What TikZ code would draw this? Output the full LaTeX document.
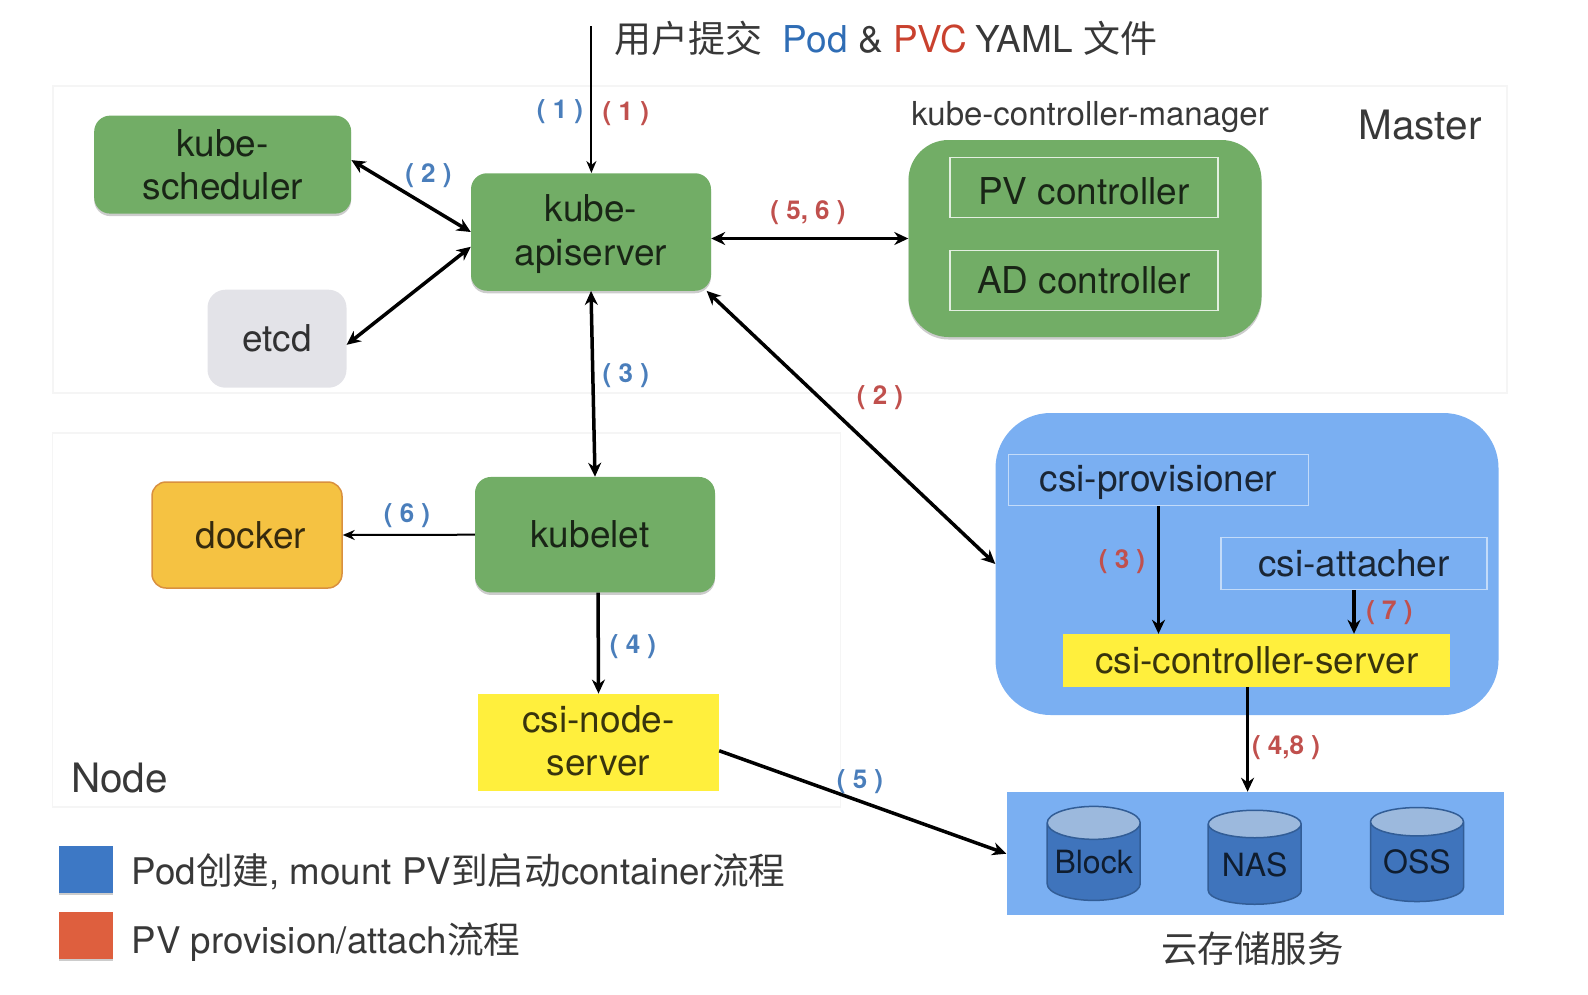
\documentclass[tikz,border=0pt]{standalone}
\usepackage{fontspec}
\setmainfont{TeX Gyre Heros}
\newfontfamily\cjk{Noto Sans CJK SC}
\usetikzlibrary{positioning,shapes.geometric,shadows,arrows.meta}
\definecolor{boxgreen}{HTML}{72AD66}
\definecolor{boxgrey}{HTML}{E3E3E8}
\definecolor{boxorange}{HTML}{F5C242}
\definecolor{lineorange}{HTML}{D9903F}
\definecolor{boxyellow}{HTML}{FFEF3D}
\definecolor{boxblue}{HTML}{7AAFF2}
\definecolor{cylblue}{HTML}{3F74BC}
\definecolor{cyltop}{HTML}{9CB9DD}
\definecolor{stepblue}{HTML}{4A7EBB}
\definecolor{stepred}{HTML}{C0504D}
\definecolor{titleblue}{HTML}{2F6DB5}
\definecolor{titlered}{HTML}{C9412E}
\definecolor{keyblue}{HTML}{3D78C5}
\definecolor{keyred}{HTML}{DE5F3E}
\newcommand{\bigtext}{\fontsize{37}{44.5}\selectfont}
\tikzset{main node/.style={rounded corners=16pt,align=center,font=\bigtext,text=black,text opacity=.78,inner sep=0pt},
    green node/.style={main node,fill=boxgreen,drop shadow={shadow xshift=0pt,shadow yshift=-2.5pt,fill=black,opacity=.2}},
    plain node/.style={main node,rounded corners=0pt},
    inner box/.style={plain node,draw=white!55!boxblue,line width=1.5pt},
    white box/.style={plain node,draw=white!80!boxgreen,line width=1.5pt,minimum width=268pt,minimum height=60pt},
    yellow node/.style={plain node,fill=boxyellow},
    frame/.style={draw=black!4,line width=1.5pt,inner sep=0pt},
    db/.style={cylinder,shape border rotate=90,aspect=.42,draw=black!20!cylblue,line width=1.5pt,cylinder uses custom fill,cylinder body fill=cylblue,cylinder end fill=cyltop,minimum width=93pt,minimum height=94pt,inner sep=0pt,font=\fontsize{32}{38}\selectfont,text=black,text opacity=.75},
    both/.style={{Stealth[length=14pt,width=13pt]}-{Stealth[length=14pt,width=13pt]},line width=3.5pt},
    one/.style={-{Stealth[length=14pt,width=13pt]},line width=3.5pt},
    thin one/.style={-{Stealth[length=12pt,width=10pt]},line width=2pt},
    key/.style={minimum width=54.7pt,minimum height=47.5pt,inner sep=0pt,drop shadow={shadow xshift=0pt,shadow yshift=-2pt,fill=black,opacity=.2}},
    free text/.style={font=\bigtext,text=black,text opacity=.78,inner sep=0pt},
    big label/.style={free text,font=\fontsize{40.5}{48}\selectfont}}
\tikzstyle{blue step} = [font=\fontsize{26}{30}\selectfont\bfseries,text=stepblue,inner sep=0pt]
\tikzstyle{red step} = [font=\fontsize{26}{30}\selectfont\bfseries,text=stepred,inner sep=0pt]
\begin{document}
\begin{tikzpicture}[x=1pt,y=-1pt]
    \useasboundingbox (0,0) rectangle (1588,994);
    \node[frame,minimum width=1454pt,minimum height=307pt] (master) at (780,239.5) {};
    \node[frame,minimum width=788pt,minimum height=374pt] (nodeframe) at (446.6,620) {};
    \node[big label] (masterlabel) at (1420,124.6) {Master};
    \node[big label] (nodelabel) at (119.5,777.7) {Node};

    \node[green node,minimum width=257pt,minimum height=98pt] (sched) at (222.7,164.6) {kube-\\[-2pt]scheduler};
    \node[green node,minimum width=240pt,minimum height=117.5pt] (api) at (591,232) {\rule{0pt}{31pt}kube-\\apiserver};
    \node[main node,fill=boxgrey,rounded corners=18pt,minimum width=139pt,minimum height=98pt] (etcd) at (277,338.7) {etcd};
    \node[green node,rounded corners=40pt,minimum width=353pt,minimum height=197pt] (kcm) at (1085,238.5) {};
    \node[free text,font=\fontsize{33}{40}\selectfont] (kcmlabel) at (1090,117.5) {kube-controller-manager};
    \node[white box,text height=34pt] (pv) at (1084,187.4) {PV controller};
    \node[white box] (ad) at (1084,280.5) {AD controller};

    \node[green node,minimum width=240pt,minimum height=115.5pt] (kubelet) at (595,534.7) {kubelet\hspace{10pt}};
    \node[main node,fill=boxorange,draw=lineorange,line width=1.5pt,rounded corners=14pt,minimum width=190pt,minimum height=106pt] (docker) at (247,535) {\hspace{8pt}docker};
    \node[yellow node,minimum width=241pt,minimum height=97pt] (csinode) at (598.5,742.3) {csi-node-\\[-2pt]server\rule[-4pt]{0pt}{4pt}};

    \node[main node,fill=boxblue,rounded corners=55pt,minimum width=503pt,minimum height=302pt] (csi) at (1247,564) {};
    \node[inner box,minimum width=300pt,minimum height=51pt,text height=31pt] (prov) at (1158.5,480) {csi-provisioner};
    \node[inner box,minimum width=265.6pt,minimum height=52pt] (attach) at (1354,563.5) {csi-attacher};
    \node[yellow node,minimum width=387pt,minimum height=52.6pt] (ctrl) at (1256.7,660.3) {csi-controller-server};

    \node[plain node,fill=boxblue,minimum width=497pt,minimum height=123.5pt] (storage) at (1255,853.7) {};
    \node[db] (block) at (1093.7,862) {Block};
    \node[db] (nas) at (1254.7,864.5) {NAS};
    \node[db] (oss) at (1417,862) {OSS};
    \node[free text,font=\fontsize{36.5}{44}\cjk] (cloud) at (1252.7,949) {云存储服务};

    \coordinate (submit) at (591.4,26.3);
    \node[free text,anchor=west,text opacity=1,text=black!78] (title) at (614.7,38.5) {{\cjk 用户提交}\hspace{20pt}{\color{titleblue}Pod} \& {\color{titlered}PVC}\hspace{-2pt} YAML\hspace{11pt}{\cjk 文件}};

    \draw[thin one] (submit) -- (submit |- api.north);
    \draw[both] (sched.2) -- (api.180);
    \draw[both] (etcd.-5.4) -- (api.187.6);
    \draw[both] (api.east |- kcm.west) -- (kcm.west);
    \draw[both] (api.south) -- (kubelet.north);
    \draw[both] (api.-27.5) -- (csi.west);
    \draw[thin one] (kubelet.west) -- (docker.east);
    \draw[one] (kubelet.-87.5) -- (csinode.north);
    \draw[one] (csinode.-4.7) -- (storage.west);
    \draw[one] (prov.south) -- (prov.south |- ctrl.north);
    \draw[one] (attach.south) -- (attach.south |- ctrl.north);
    \draw[one] (ctrl.-109) -- (ctrl.-109 |- storage.north);

    \node[blue step] (b1) at (560,111.4) {( 1 )};
    \node[red step] (r1) at (625.8,113.4) {( 1 )};
    \node[blue step] (b2) at (428.4,176) {( 2 )};
    \node[red step] (r56) at (808,212.6) {( 5, 6 )};
    \node[red step] (r2) at (880,398) {( 2 )};
    \node[blue step] (b3) at (625.8,375.7) {( 3 )};
    \node[blue step] (b6) at (407,515.4) {( 6 )};
    \node[blue step] (b4) at (633,647) {( 4 )};
    \node[blue step] (b5) at (860,781.8) {( 5 )};
    \node[red step] (r3) at (1122,562) {( 3 )};
    \node[red step] (r7) at (1389.4,612.6) {( 7 )};
    \node[red step] (r48) at (1286,747.3) {( 4,8 )};

    \node[key,fill=keyblue] (keyb) at (86,869.3) {};
    \node[key,fill=keyred] (keyr) at (86,935.7) {};
    \node[free text,anchor=west,font=\fontsize{36.7}{44}\selectfont] (keybtext) at (131.6,872) {Pod{\cjk 创建}, mount PV{\cjk 到启动}container{\cjk 流程}};
    \node[free text,anchor=west,font=\fontsize{36.7}{44}\selectfont] (keyrtext) at (131.6,942) {PV provision/attach{\cjk 流程}};
\end{tikzpicture}
\end{document}
